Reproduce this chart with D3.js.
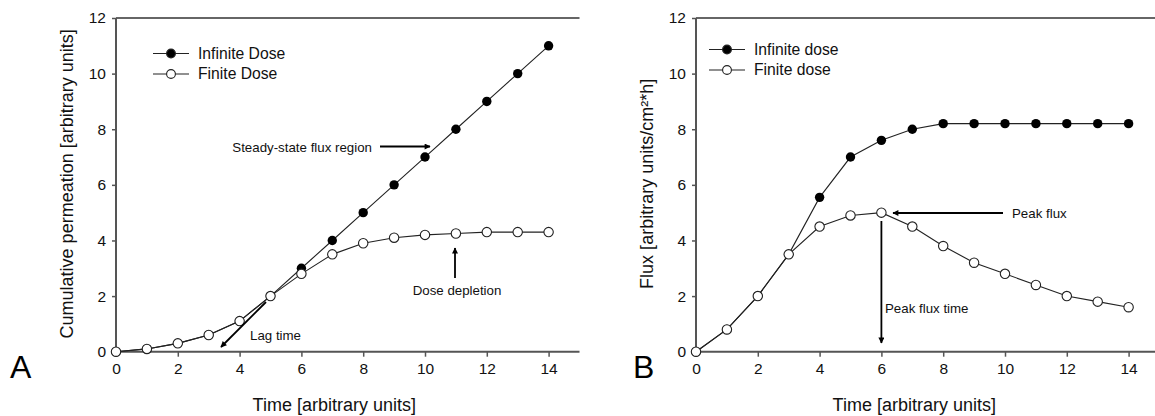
<!DOCTYPE html>
<html>
<head>
<meta charset="utf-8">
<script src="https://cdn.jsdelivr.net/npm/d3@7"></script>
<style>
  body { margin: 0; background: #fff; }
  text { font-family: Arial, "Liberation Sans", sans-serif; }
</style>
</head>
<body>
<div class="graph"></div>
<script>
// time points
var times = [0, 1, 2, 3, 4, 5, 6, 7, 8, 9, 10, 11, 12, 13, 14];
var yTicks = [0, 2, 4, 6, 8, 10, 12];
var xTicks = [0, 2, 4, 6, 8, 10, 12, 14];

// panel A - cumulative permeation
var cumInfinite = [0, 0.1, 0.3, 0.6, 1.1, 2, 3, 4, 5, 6, 7, 8, 9, 10, 11];
var cumFinite = [0, 0.1, 0.3, 0.6, 1.1, 2, 2.8, 3.5, 3.9, 4.1, 4.2, 4.25, 4.3, 4.3, 4.3];

// panel B - flux
var fluxInfinite = [0, 0.8, 2, 3.5, 5.55, 7.0, 7.6, 8.0, 8.2, 8.2, 8.2, 8.2, 8.2, 8.2, 8.2];
var fluxFinite = [0, 0.8, 2, 3.5, 4.5, 4.9, 5.0, 4.5, 3.8, 3.2, 2.8, 2.4, 2.0, 1.8, 1.6];

var w = 1155;
var h = 416;

var svg = d3.select(".graph").append("svg")
  .attr("width", w)
  .attr("height", h);

var defs = svg.append("defs");
defs.append("marker")
  .attr("id", "arrow")
  .attr("viewBox", "0 0 10 10")
  .attr("refX", 9).attr("refY", 5)
  .attr("markerWidth", 8).attr("markerHeight", 6)
  .attr("markerUnits", "userSpaceOnUse")
  .attr("orient", "auto")
  .append("path")
  .attr("d", "M0,0 L10,5 L0,10 z")
  .attr("fill", "#000");

function drawPanel(opt) {
  var x = d3.scaleLinear().domain([0, 15]).range([opt.left, opt.left + 15 * 30.9]);
  var y = d3.scaleLinear().domain([0, 12]).range([351.7, 18]);
  var g = svg.append("g");

  // top frame line
  g.append("line")
    .attr("x1", x(0)).attr("x2", x.range()[1])
    .attr("y1", y(12)).attr("y2", y(12))
    .attr("stroke", "#666").attr("stroke-width", 2);

  var xAxis = g.append("g")
    .attr("transform", "translate(0," + y(0) + ")")
    .call(d3.axisBottom(x).tickValues(xTicks).tickSize(5).tickPadding(6));
  var yAxis = g.append("g")
    .attr("transform", "translate(" + x(0) + ",0)")
    .call(d3.axisLeft(y).tickValues(yTicks).tickSize(4).tickPadding(6));
  [xAxis, yAxis].forEach(function(a) {
    a.select(".domain").attr("stroke", "#555").attr("stroke-width", 2);
    a.selectAll(".tick line").attr("stroke", "#555").attr("stroke-width", 1.5);
    a.selectAll(".tick text").attr("font-size", "15.5px").attr("fill", "#111")
      .attr("font-family", "Arial, 'Liberation Sans', sans-serif");
  });
  xAxis.selectAll(".domain").attr("d", "M" + x(0) + ",0H" + x.range()[1]);
  yAxis.selectAll(".domain").attr("d", "M0," + y(0) + "V" + y(12));

  var line = d3.line()
    .x(function(d, i) { return x(times[i]); })
    .y(function(d) { return y(d); });

  g.append("path").datum(opt.inf)
    .attr("d", line).attr("fill", "none").attr("stroke", "#222").attr("stroke-width", 1.1);
  g.append("path").datum(opt.fin)
    .attr("d", line).attr("fill", "none").attr("stroke", "#222").attr("stroke-width", 1.1);

  g.selectAll("circle.inf").data(opt.inf).enter().append("circle")
    .attr("class", "inf")
    .attr("cx", function(d, i) { return x(times[i]); })
    .attr("cy", function(d) { return y(d); })
    .attr("r", 4.7).attr("fill", "#000");
  g.selectAll("circle.fin").data(opt.fin).enter().append("circle")
    .attr("class", "fin")
    .attr("cx", function(d, i) { return x(times[i]); })
    .attr("cy", function(d) { return y(d); })
    .attr("r", 4.7).attr("fill", "#fff").attr("stroke", "#222").attr("stroke-width", 1.1);

  // legend
  var leg = g.append("g");
  opt.legend.forEach(function(l, i) {
    var ly = opt.legY + i * 20.5;
    leg.append("line").attr("x1", opt.legX).attr("x2", opt.legX + 36)
      .attr("y1", ly).attr("y2", ly).attr("stroke", "#222").attr("stroke-width", 1.1);
    leg.append("circle").attr("cx", opt.legX + 18).attr("cy", ly).attr("r", 4.4)
      .attr("fill", i == 0 ? "#000" : "#fff").attr("stroke", "#222").attr("stroke-width", 1.1);
    leg.append("text").attr("x", opt.legX + 45).attr("y", ly).attr("dy", "0.35em")
      .attr("font-size", "15.7px").attr("fill", "#111").text(l);
  });

  // axis titles
  g.append("text")
    .attr("x", x(7) + 2).attr("y", 411)
    .attr("text-anchor", "middle").attr("font-size", "18px").attr("fill", "#111")
    .text("Time [arbitrary units]");
  g.append("text")
    .attr("transform", "translate(" + (x(0) - 43) + "," + (y(6) - 1) + ") rotate(-90)")
    .attr("text-anchor", "middle").attr("font-size", "18px").attr("fill", "#111")
    .text(opt.yLabel);

  // panel letter
  g.append("text")
    .attr("x", opt.letterX).attr("y", 378)
    .attr("font-size", "32px").attr("fill", "#000")
    .text(opt.letter);

  return { g: g, x: x, y: y };
}

function arrow(g, x1, y1, x2, y2) {
  g.append("line")
    .attr("x1", x1).attr("y1", y1).attr("x2", x2).attr("y2", y2)
    .attr("stroke", "#000").attr("stroke-width", 1.8)
    .attr("marker-end", "url(#arrow)");
}

function note(g, x, y, txt, anchor) {
  g.append("text").attr("x", x).attr("y", y).attr("dy", "0.35em")
    .attr("text-anchor", anchor || "start")
    .attr("font-size", "13.3px").attr("fill", "#111").text(txt);
}

var A = drawPanel({
  left: 116, inf: cumInfinite, fin: cumFinite,
  legend: ["Infinite Dose", "Finite Dose"], legX: 153, legY: 53.5,
  yLabel: "Cumulative permeation [arbitrary units]",
  letter: "A", letterX: 10
});
note(A.g, 372, 147, "Steady-state flux region", "end");
arrow(A.g, 380, 146.5, 430, 146.5);
note(A.g, 457, 290, "Dose depletion", "middle");
arrow(A.g, 455, 278, 455, 248);
note(A.g, 250, 335, "Lag time");
arrow(A.g, 266, 302, 221, 347);

var B = drawPanel({
  left: 696, inf: fluxInfinite, fin: fluxFinite,
  legend: ["Infinite dose", "Finite dose"], legX: 709, legY: 49.5,
  yLabel: "Flux [arbitrary units/cm\u00b2*h]",
  letter: "B", letterX: 633
});
note(B.g, 1012, 213, "Peak flux");
arrow(B.g, 1003, 213, 893, 213);
note(B.g, 885, 308, "Peak flux time");
arrow(B.g, B.x(6), 221, B.x(6), 343);
</script>
</body>
</html>
